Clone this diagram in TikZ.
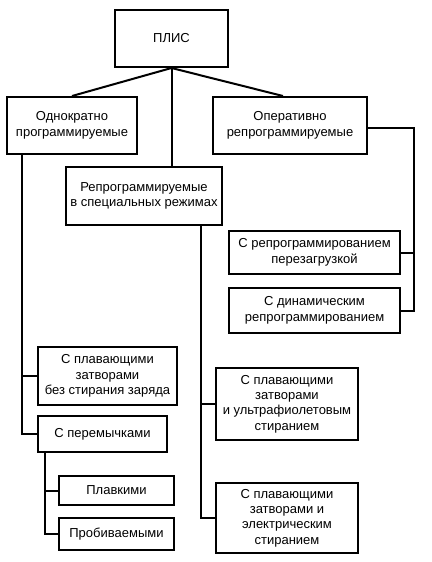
\documentclass[tikz,border=0pt]{standalone}
\usepackage{fontspec}
\setmainfont{Liberation Sans}
\begin{document}
\begin{tikzpicture}[x=1pt,y=-1pt,
  box/.style={draw,line width=2pt,align=center,inner sep=0pt,font=\fontsize{13}{15.4}\selectfont},
  conn/.style={line width=2pt}]
\useasboundingbox (0,0) rectangle (431,562);
\node[box,minimum width=113pt,minimum height=57pt] (plis) at (171.5,38.5) {ПЛИС};
\node[box,minimum width=130pt,minimum height=57pt] (odn) at (72,125.5) {Однократно\\программируемые};
\node[box,minimum width=154pt,minimum height=57pt] (oper) at (290,125.5) {Оперативно\\репрограммируемые};
\node[box,minimum width=156pt,minimum height=58pt] (rep) at (144,196) {Репрограммируемые\\в специальных режимах};
\node[box,minimum width=171pt,minimum height=43pt] (rper) at (314.5,252.5) {С репрограммированием\\перезагрузкой};
\node[box,minimum width=171pt,minimum height=45pt] (dyn) at (314.5,310.5) {С динамическим\\репрограммированием};
\node[box,minimum width=139pt,minimum height=58pt] (bez) at (107.5,376) {С плавающими\\затворами\\без стирания заряда};
\node[box,minimum width=129pt,minimum height=36pt] (per) at (102.5,434) {С перемычками};
\node[box,minimum width=115pt,minimum height=29pt] (plav) at (116.5,490.5) {Плавкими};
\node[box,minimum width=115pt,minimum height=32pt] (prob) at (116.5,534) {Пробиваемыми};
\node[box,minimum width=142pt,minimum height=72pt] (uf) at (287,404) {С плавающими\\затворами\\и ультрафиолетовым\\стиранием};
\node[box,minimum width=142pt,minimum height=70pt] (el) at (287,518) {С плавающими\\затворами и\\электрическим\\стиранием};
\draw[conn] (plis.south) -- (odn.north);
\draw[conn] (plis.south) -- ([xshift=-7pt]oper.north);
\draw[conn] (plis.south) -- (plis.south |- rep.north);
\draw[conn] ([yshift=-2pt]oper.east) -| ([xshift=13pt]dyn.east) -- (dyn.east);
\draw[conn] (rper.east) -- ++(13,0);
\draw[conn] ([xshift=16pt]odn.south west) |- (per.west);
\draw[conn] (bez.west) -- ++(-15,0);
\draw[conn] ([xshift=8pt]per.south west) |- (prob.west);
\draw[conn] (plav.west) -- ++(-13,0);
\draw[conn] ([xshift=136pt]rep.south west) |- (el.west);
\draw[conn] (uf.west) -- ++(-14,0);
\end{tikzpicture}
\end{document}
